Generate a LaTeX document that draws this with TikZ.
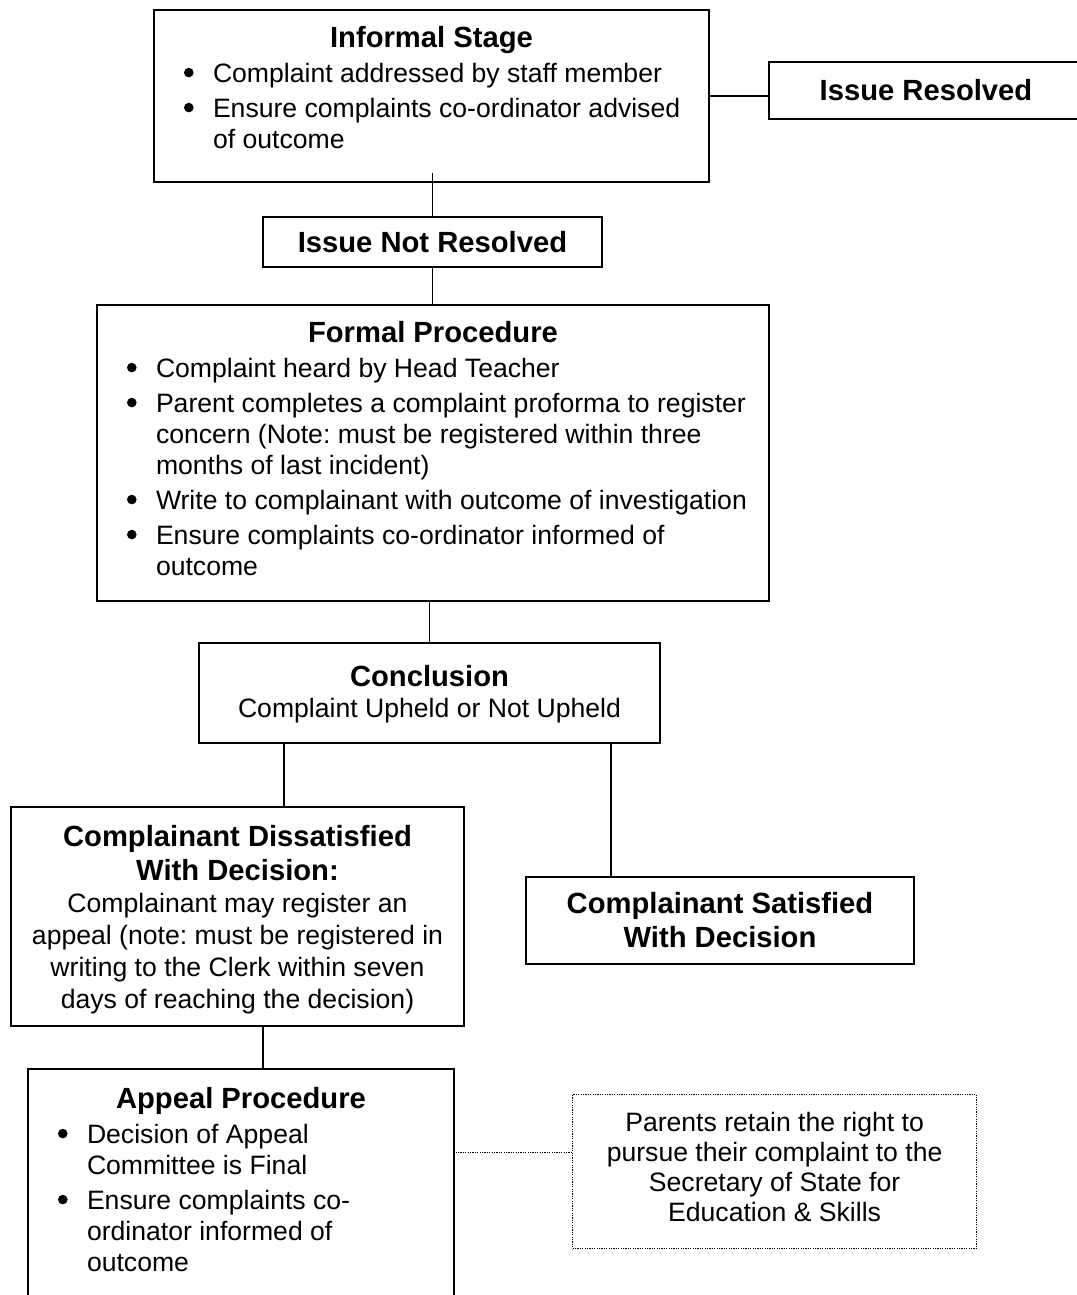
\documentclass[tikz,border=0pt]{standalone}
\usepackage{fontspec}
\setmainfont{Liberation Sans}
\usetikzlibrary{positioning,calc}
\frenchspacing
\newcommand\hd{\fontsize{14.6}{17}\selectfont\bfseries}
\newcommand\bd{\fontsize{13.3}{15.5}\selectfont\mdseries}
\newcommand\inbox[3]{\parbox[c][#2][t]{#1}{#3}}
\newcommand\bulletdot{\tikz[baseline=-4.8pt]\fill (0pt,0pt) circle (2.4pt);}
\newcommand\itm[1]{\par\vspace{2pt}\noindent\hangindent=29.5pt\hangafter=1\makebox[29.5pt][l]{\hspace{15pt}\bulletdot}#1}
\tikzset{every node/.style={draw,rectangle,line width=1pt,inner sep=0pt,anchor=north west,font=\bd}}
\tikzset{link/.style={line width=0.75pt}}
\tikzset{dotlink/.style={line width=0.6pt,dash pattern=on 0.6pt off 0.6pt}}

\begin{document}
\begin{tikzpicture}[x=0.5pt,y=-0.5pt]
  \useasboundingbox (0,0) rectangle (1076,1295);
  % stages
  \node (informal) at (153,9) {\inbox{277.5pt}{86pt}{\vspace*{8pt}\centering\hd Informal Stage\par\raggedright\bd
    \itm{Complaint addressed by staff member}
    \itm{Ensure complaints co-ordinator advised\newline of outcome}}};
  \node[minimum width=157pt,minimum height=28.5pt,font=\hd] (resolved) at (768,61) {Issue Resolved};
  \node[minimum width=169.5pt,minimum height=25pt,font=\hd] (notres) at (262,216) {Issue Not Resolved};
  \node (formal) at (96,304) {\inbox{336pt}{148pt}{\vspace*{8pt}\centering\hd Formal Procedure\par\raggedright\bd
    \itm{Complaint heard by Head Teacher}
    \itm{Parent completes a complaint proforma to register\newline concern (Note: must be registered within three\newline months of last incident)}
    \itm{Write to complainant with outcome of investigation}
    \itm{Ensure complaints co-ordinator informed of\newline outcome}}};
  \node (concl) at (198,642) {\inbox{230.5pt}{50pt}{\vspace*{11pt}\centering\hd Conclusion\par\bd Complaint Upheld or Not Upheld\par}};
  \node (dissat) at (10,806) {\inbox{226.5pt}{109.5pt}{\vspace*{9pt}\centering{\hd Complainant Dissatisfied\\With Decision:\par}
    \bd\fontsize{13.3}{16}\selectfont Complainant may register an\\appeal (note: must be registered in\\writing to the Clerk within seven\\days of reaching the decision)\par}};
  \node[minimum width=194pt,minimum height=43.5pt,font=\hd,align=center] (sat) at (525,876) {Complainant Satisfied\\With Decision};
  \node (appeal) at (27,1068) {\inbox{213pt}{125pt}{\vspace*{9pt}\centering\hd Appeal Procedure\par\raggedright\bd
    \itm{Decision of Appeal\newline Committee is Final}
    \itm{Ensure complaints co-\newline ordinator informed of\newline outcome}}};
  \node[dotlink] (note) at (572,1094) {\inbox{202pt}{77pt}{\vspace*{9pt}\centering\fontsize{13.3}{15}\selectfont Parents retain the right to\\pursue their complaint to the\\Secretary of State for\\Education \& Skills\par}};
  % connectors
  \draw[link] ($(informal.south -| notres.north)+(0,-10)$) -- (notres.north);
  \draw[link] (informal.east) -- (informal.east -| resolved.west);
  \draw[link] (notres.south) -- (notres.south |- formal.north);
  \draw[link] (concl.north) -- (concl.north |- formal.south);
  \path ([xshift=23.25pt]dissat.north) coordinate (d1);
  \draw[link] (d1) -- (d1 |- concl.south);
  \path ([xshift=-54.5pt]sat.north) coordinate (s1);
  \draw[link] (s1) -- (s1 |- concl.south);
  \path ([xshift=11pt]appeal.north) coordinate (a1);
  \draw[link] (a1) -- (a1 |- dissat.south);
  \path ([yshift=9.5pt]note.west) coordinate (n1);
  \draw[dotlink] (n1) -- (n1 -| appeal.east);
\end{tikzpicture}
\end{document}
